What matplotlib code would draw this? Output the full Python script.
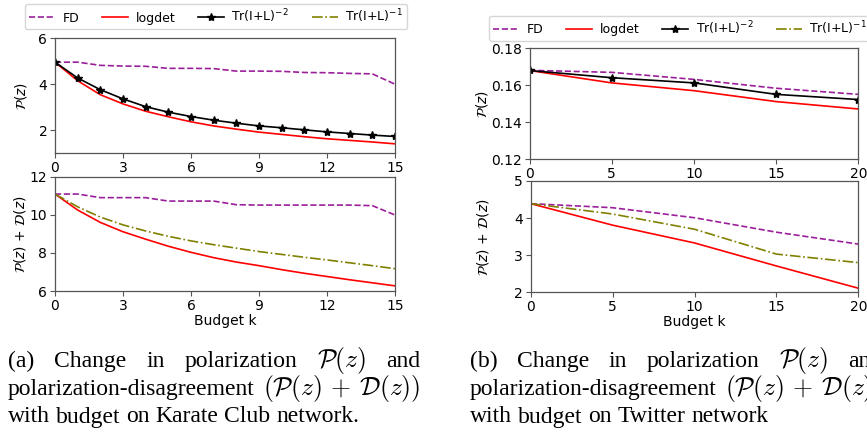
import matplotlib
matplotlib.use("Agg")
import matplotlib.pyplot as plt

# Karate Club network (budget 0..15)
k_karate = list(range(16))
karate_p_fd = [4.96, 4.96, 4.82, 4.79, 4.78, 4.69, 4.69, 4.68, 4.57, 4.57, 4.56, 4.51, 4.50, 4.47, 4.45, 4.00]
karate_p_logdet = [4.96, 4.15, 3.54, 3.14, 2.82, 2.58, 2.36, 2.18, 2.04, 1.91, 1.81, 1.71, 1.62, 1.55, 1.48, 1.40]
karate_p_tr2 = [4.96, 4.27, 3.76, 3.36, 3.02, 2.78, 2.59, 2.43, 2.30, 2.18, 2.10, 2.01, 1.92, 1.85, 1.78, 1.72]
karate_pd_fd = [11.09, 11.09, 10.90, 10.90, 10.90, 10.72, 10.72, 10.72, 10.53, 10.51, 10.51, 10.51, 10.51, 10.51, 10.48, 9.99]
karate_pd_logdet = [11.09, 10.25, 9.60, 9.11, 8.72, 8.35, 8.03, 7.75, 7.52, 7.33, 7.12, 6.93, 6.76, 6.59, 6.43, 6.27]
karate_pd_tr1 = [11.09, 10.42, 9.88, 9.47, 9.15, 8.87, 8.63, 8.43, 8.25, 8.07, 7.92, 7.77, 7.63, 7.48, 7.33, 7.17]

# Twitter network (budget 0..20)
k_twitter = [0, 5, 10, 15, 20]
twitter_p_fd = [0.1681, 0.1670, 0.1632, 0.1584, 0.1551]
twitter_p_logdet = [0.1680, 0.1613, 0.1571, 0.1512, 0.1472]
twitter_p_tr2 = [0.1680, 0.1641, 0.1613, 0.1551, 0.1523]
twitter_pd_fd = [4.39, 4.28, 4.01, 3.62, 3.30]
twitter_pd_logdet = [4.39, 3.81, 3.33, 2.71, 2.11]
twitter_pd_tr1 = [4.39, 4.11, 3.70, 3.03, 2.80]

C_FD = "#9b1f9b"
C_LOGDET = "#ff0000"
C_TR1 = "#808000"
SPINE = "#555555"

W, H = 867, 432
fig = plt.figure(figsize=(W / 100, H / 100), dpi=100)


def _ax(left, top, right, bottom):
    ax = fig.add_axes([left / W, 1 - bottom / H, (right - left) / W, (bottom - top) / H])
    for s in ax.spines.values():
        s.set_color(SPINE)
        s.set_linewidth(0.9)
    ax.tick_params(labelsize=10, color=SPINE, length=3.5, pad=2)
    return ax


def _top(ax, k, fd, logdet, tr2):
    ax.plot(k, fd, "--", color=C_FD, lw=1.2, label="FD")
    ax.plot(k, logdet, "-", color=C_LOGDET, lw=1.2, label="logdet")
    ax.plot(k, tr2, "-", color="black", lw=1.2, marker="*", ms=6, label=r"Tr(I+L)$^{-2}$")
    ax.plot([], [], "-.", color=C_TR1, lw=1.2, label=r"Tr(I+L)$^{-1}$")
    ax.set_ylabel(r"$\mathcal{P}(z)$", fontsize=10)


def _bottom(ax, k, fd, logdet, tr1):
    ax.plot(k, fd, "--", color=C_FD, lw=1.2)
    ax.plot(k, logdet, "-", color=C_LOGDET, lw=1.2)
    ax.plot(k, tr1, "-.", color=C_TR1, lw=1.2)
    ax.set_ylabel(r"$\mathcal{P}(z)$ + $\mathcal{D}(z)$", fontsize=10)
    ax.set_xlabel("Budget k", fontsize=10, labelpad=1)


def _legend(ax, **kw):
    h, l = ax.get_legend_handles_labels()
    fig.legend(h, l, ncol=4, fontsize=9, handlelength=2.1, handletextpad=0.6,
               columnspacing=1.8, borderpad=0.3, borderaxespad=0, **kw)


# (a) Karate Club
ax1 = _ax(55, 38.3, 395, 153)
_top(ax1, k_karate, karate_p_fd, karate_p_logdet, karate_p_tr2)
ax1.set_xlim(0, 15)
ax1.set_ylim(1, 6)
ax1.set_xticks(range(0, 16, 3))
ax1.set_yticks([2, 4, 6])
ax1.yaxis.set_label_coords(-0.075, 0.5)

ax2 = _ax(55, 176.7, 395, 291)
_bottom(ax2, k_karate, karate_pd_fd, karate_pd_logdet, karate_pd_tr1)
ax2.set_xlim(0, 15)
ax2.set_ylim(6, 12)
ax2.set_xticks(range(0, 16, 3))
ax2.set_yticks([6, 8, 10, 12])
ax2.yaxis.set_label_coords(-0.08, 0.5)

_legend(ax1, loc="upper center", bbox_to_anchor=(216 / W, 1 - 4 / H))

# (b) Twitter
ax3 = _ax(529.5, 48.3, 858.3, 159.3)
_top(ax3, k_twitter, twitter_p_fd, twitter_p_logdet, twitter_p_tr2)
ax3.set_xlim(0, 20)
ax3.set_ylim(0.12, 0.18)
ax3.set_xticks([0, 5, 10, 15, 20])
ax3.set_yticks([0.12, 0.14, 0.16, 0.18])
ax3.yaxis.set_label_coords(-0.12, 0.5)

ax4 = _ax(530.7, 181, 858.3, 292.3)
_bottom(ax4, k_twitter, twitter_pd_fd, twitter_pd_logdet, twitter_pd_tr1)
ax4.set_xlim(0, 20)
ax4.set_ylim(2, 5)
ax4.set_xticks([0, 5, 10, 15, 20])
ax4.set_yticks([2, 3, 4, 5])
ax4.yaxis.set_label_coords(-0.12, 0.5)

_legend(ax3, loc="upper left", bbox_to_anchor=(489 / W, 1 - 15.7 / H))

# captions (justified lines, LaTeX-like)
CAP_FS = 17
MATH_FS = 18.5
renderer = fig.canvas.get_renderer()


def _word(x, y, s):
    kw = dict(fontsize=CAP_FS, family="Liberation Serif", va="baseline", ha="left")
    if "$" in s:
        kw.update(math_fontfamily="cm", fontsize=MATH_FS)
    return fig.text(x / W, 1 - y / H, s, **kw)


def _line(words, x0, x1, y, justify=True):
    texts = [_word(x0, y, w) for w in words]
    widths = [t.get_window_extent(renderer).width for t in texts]
    if justify and len(words) > 1:
        gap = (x1 - x0 - sum(widths)) / (len(words) - 1)
    else:
        gap = 0.25 * CAP_FS * 100 / 72
    x = x0
    for t, wd in zip(texts, widths):
        t.set_x(x / W)
        x += wd + gap


P = r"$\mathcal{P}(z)$"
PD = r"$(\mathcal{P}(z)\,+\,\mathcal{D}(z))$"
for x0, tag, last in [(8, "(a)", "with budget on Karate Club network."),
                      (470, "(b)", "with budget on Twitter network")]:
    x1 = x0 + 412
    _line([tag, "Change", "in", "polarization", P, "and"], x0, x1, 367)
    _line(["polarization-disagreement", PD], x0, x1, 395)
    _line(last.split(" "), x0, x1, 422.5, justify=False)

fig.savefig("out.png", dpi=100)
